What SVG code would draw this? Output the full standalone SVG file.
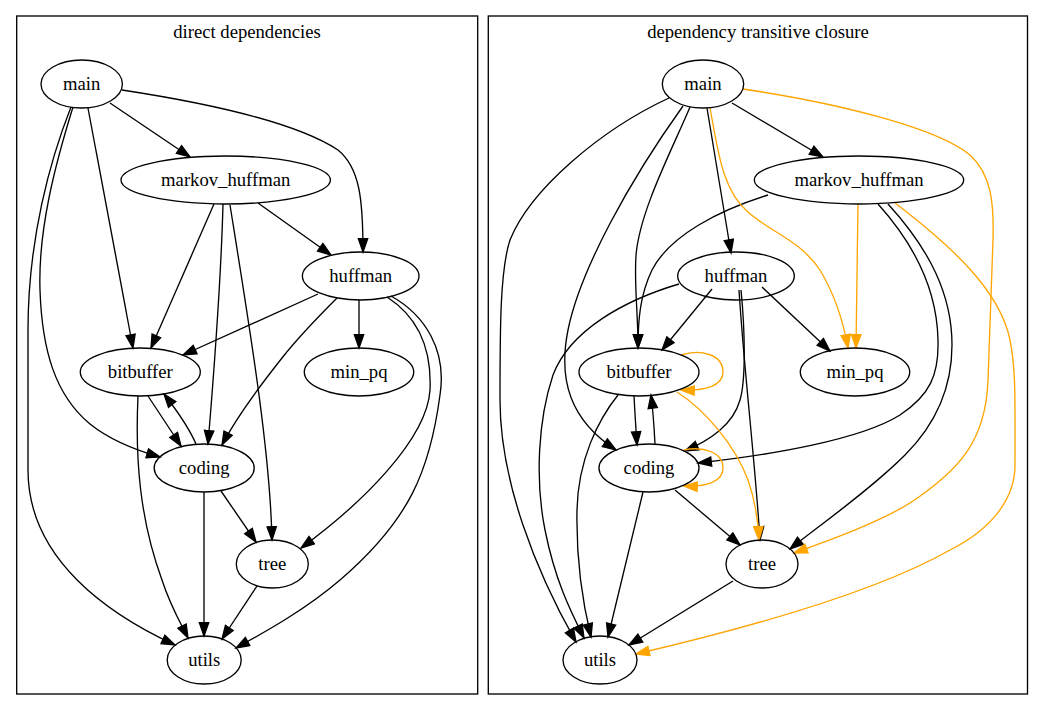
<svg xmlns="http://www.w3.org/2000/svg" width="1042" height="710" viewBox="0 0 1042 710">
<style>
text{font-family:"Liberation Serif","Times New Roman",serif;font-size:18.67px;text-anchor:middle;fill:#000}
.n ellipse{fill:none;stroke:#000;stroke-width:1.33}
.c{fill:none;stroke:#000;stroke-width:1.33}
.e path{fill:none;stroke:#000;stroke-width:1.33;marker-end:url(#ab)}
.e path.o{stroke:#ffa500;marker-end:url(#ao)}
</style>
<defs>
<marker id="ab" markerUnits="userSpaceOnUse" markerWidth="16" markerHeight="12" viewBox="-1 -1 16 12" refX="13.3" refY="4.67" orient="auto"><path d="M0,0 L13.3,4.67 L0,9.33 z" fill="#000" stroke="#000" stroke-width="1.33"/></marker>
<marker id="ao" markerUnits="userSpaceOnUse" markerWidth="16" markerHeight="12" viewBox="-1 -1 16 12" refX="13.3" refY="4.67" orient="auto"><path d="M0,0 L13.3,4.67 L0,9.33 z" fill="#ffa500" stroke="#ffa500" stroke-width="1.33"/></marker>
</defs>
<rect width="1042" height="710" fill="#fff"/>
<g id="cluster_direct">
<rect class="c" x="16.7" y="16" width="461" height="678"/>
<text x="247" y="38">direct dependencies</text>
</g>
<g id="cluster_closure">
<rect class="c" x="488.3" y="16" width="539.2" height="678"/>
<text x="758" y="38">dependency transitive closure</text>
</g>
<g id="edges" class="e">
<path d="M110,103 L190,157"/>
<path d="M122,90 C220,105 300,125 338,150 C360,168 363,200 363,252"/>
<path d="M88,108 L133,348"/>
<path d="M73,107 C55,165 38,230 40,290 C42,350 55,395 90,424 C110,440 135,450 160,457"/>
<path d="M71,107 C50,160 28,240 28,330 L28,470 C28,560 110,615 175,645"/>
<path d="M258,203 L331,255"/>
<path d="M214,204 L151,348"/>
<path d="M223,204 C221,280 215,360 208,444"/>
<path d="M230,205 C250,330 270,450 272,540"/>
<path d="M318,294 L183,355"/>
<path d="M359,300 L359,348"/>
<path d="M337,298 C320,315 300,335 282,358 C255,392 235,420 222,445"/>
<path d="M387,297 C415,315 432,345 430,390 C427,440 360,505 301,548"/>
<path d="M391,296 C425,315 447,350 440,395 C430,470 410,520 340,580 C305,610 265,632 236,648"/>
<path d="M148,396 L181,446"/>
<path d="M196,444 C190,430 178,412 164,394"/>
<path d="M138,396 C135,460 140,520 162,580 C170,605 180,622 188,638"/>
<path d="M204,492 L204,636"/>
<path d="M221,491 L256,542"/>
<path d="M257,586 L222,639"/>

<path d="M732,103 L823,157"/>
<path d="M707,108 L731,253"/>
<path d="M690,107 C672,150 640,210 636,255 C634,285 638,310 638,348"/>
<path d="M768,195 C720,210 670,235 652,270 C640,295 638,320 638,348"/>
<path d="M683,106 C630,180 580,270 568,330 C558,380 570,420 616,450"/>
<path d="M669,98 C600,130 530,190 510,240 C500,270 500,330 500,400 C500,480 535,570 576,642"/>
<path d="M679,284 C625,300 570,330 553,375 C538,420 535,480 545,530 C555,580 570,610 584,638"/>
<path d="M618,395 C598,420 578,460 577,510 C576,560 582,600 591,637"/>
<path d="M712,289 L662,350"/>
<path d="M762,287 L830,351"/>
<path d="M741,290 C745,330 746,380 740,400 C733,425 710,440 685,451"/>
<path d="M739,290 C744,370 755,460 760,540"/>
<path d="M878,204 C915,245 937,290 938,340 C939,375 930,395 900,415 C860,440 770,455 698,463"/>
<path d="M888,204 C930,250 952,295 952,345 C952,390 935,425 905,455 C870,490 820,525 790,549"/>
<path d="M634,396 C635,415 636,430 637,445"/>
<path d="M655,444 C654,425 653,410 651,395"/>
<path d="M675,490 L740,545"/>
<path d="M643,492 L608,637"/>
<path d="M733,581 L629,645"/>
<path class="o" d="M858,204 L856,348"/>
<path class="o" d="M710,108 C718,150 722,190 748,212 C770,232 800,240 820,270 C835,295 843,320 848,348"/>
<path class="o" d="M743,89 C850,105 940,130 970,155 C992,175 994,205 993,240 L988,380 C986,440 960,470 910,503 C880,522 830,540 794,553"/>
<path class="o" d="M895,203 C950,245 1000,290 1010,340 C1016,370 1015,400 1015,465 C1015,500 990,530 950,550 C880,590 760,625 636,654"/>
<path class="o" d="M681,355 C700,349 723,354 723,372 C723,386 705,391 681,390"/>
<path class="o" d="M684,450 C703,446 723,452 723,468 C723,482 706,487 684,486"/>
<path class="o" d="M677,392 C705,410 735,445 748,480 C755,500 758,520 759,540"/>
</g>
<g id="d_main" class="n"><ellipse cx="81.7" cy="84" rx="40.7" ry="24"/><text x="81.7" y="89.6">main</text></g>
<g id="d_markov_huffman" class="n"><ellipse cx="225.7" cy="180" rx="104.7" ry="24"/><text x="225.7" y="185.6">markov_huffman</text></g>
<g id="d_huffman" class="n"><ellipse cx="360.7" cy="276" rx="58.3" ry="24"/><text x="360.7" y="281.6">huffman</text></g>
<g id="d_bitbuffer" class="n"><ellipse cx="140.3" cy="372" rx="60" ry="24"/><text x="140.3" y="377.6">bitbuffer</text></g>
<g id="d_min_pq" class="n"><ellipse cx="359" cy="372" rx="54.7" ry="24"/><text x="359" y="377.6">min_pq</text></g>
<g id="d_coding" class="n"><ellipse cx="204.2" cy="468" rx="50" ry="24"/><text x="204.2" y="473.6">coding</text></g>
<g id="d_tree" class="n"><ellipse cx="272.3" cy="564" rx="36" ry="24"/><text x="272.3" y="569.6">tree</text></g>
<g id="d_utils" class="n"><ellipse cx="204.2" cy="660" rx="37" ry="24"/><text x="204.2" y="665.6">utils</text></g>

<g id="t_main" class="n"><ellipse cx="703" cy="84" rx="40.7" ry="24"/><text x="703" y="89.6">main</text></g>
<g id="t_markov_huffman" class="n"><ellipse cx="859" cy="180" rx="104.7" ry="24"/><text x="859" y="185.6">markov_huffman</text></g>
<g id="t_huffman" class="n"><ellipse cx="736" cy="276" rx="58.3" ry="24"/><text x="736" y="281.6">huffman</text></g>
<g id="t_bitbuffer" class="n"><ellipse cx="639" cy="372" rx="60" ry="24"/><text x="639" y="377.6">bitbuffer</text></g>
<g id="t_min_pq" class="n"><ellipse cx="855" cy="372" rx="54.7" ry="24"/><text x="855" y="377.6">min_pq</text></g>
<g id="t_coding" class="n"><ellipse cx="649" cy="468" rx="50" ry="24"/><text x="649" y="473.6">coding</text></g>
<g id="t_tree" class="n"><ellipse cx="762" cy="564" rx="36" ry="24"/><text x="762" y="569.6">tree</text></g>
<g id="t_utils" class="n"><ellipse cx="600" cy="660" rx="37" ry="24"/><text x="600" y="665.6">utils</text></g>
</svg>
